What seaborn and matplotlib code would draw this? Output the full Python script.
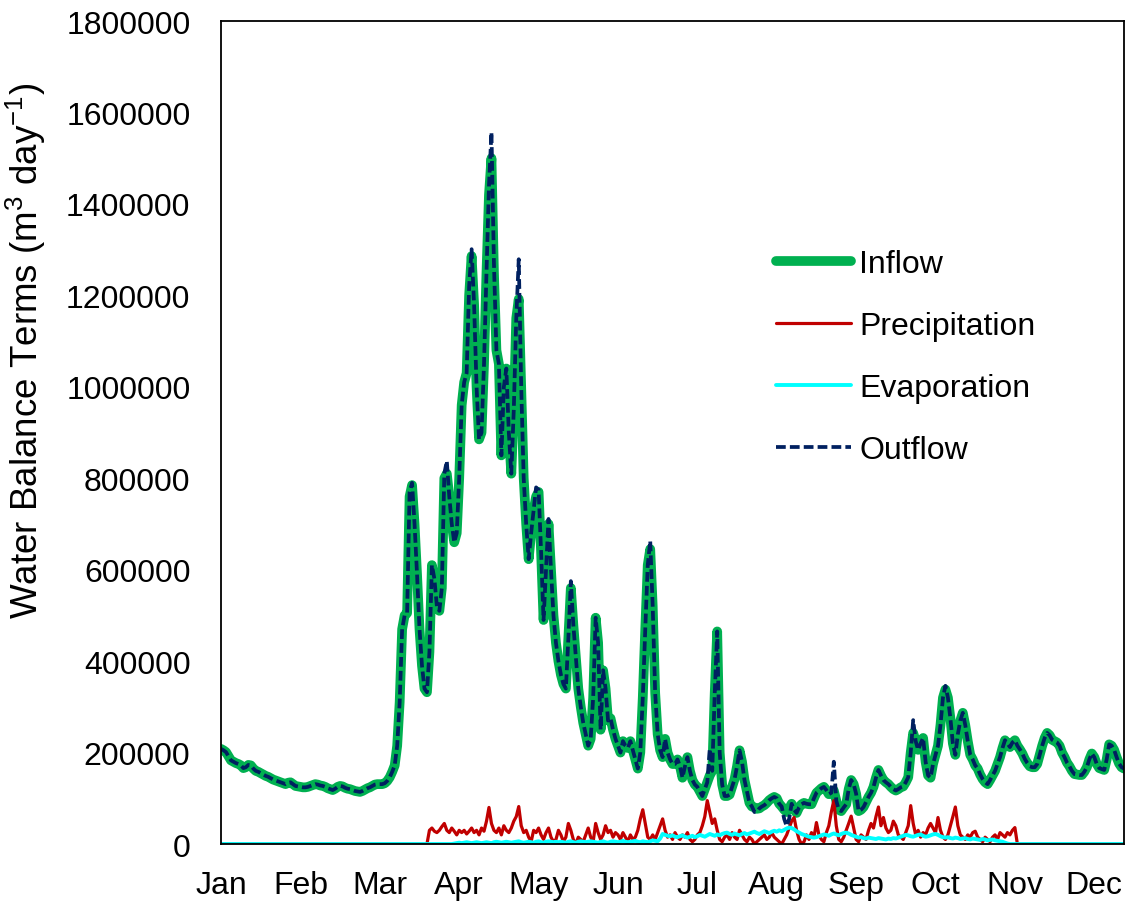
import numpy as np
import pandas as pd
import matplotlib
matplotlib.use("Agg")
import matplotlib.pyplot as plt
import seaborn as sns
from matplotlib.ticker import FixedLocator, StrMethodFormatter

# Daily water balance terms for one year, in thousand m3/day
inflow_k = [
    208, 205, 201, 192, 183, 180, 177, 175, 172, 166,
    168, 173, 172, 165, 160, 158, 155, 152, 149, 147,
    144, 141, 139, 137, 135, 133, 131, 134, 135, 131,
    127, 126, 125, 124, 124, 125, 127, 129, 131, 130,
    128, 127, 125, 122, 120, 118, 121, 125, 127, 126,
    123, 121, 120, 118, 116, 115, 114, 116, 119, 122,
    124, 127, 130, 131, 131, 131, 133, 138, 146, 158,
    172, 215, 310, 470, 500, 505, 760, 785, 700, 590,
    470, 390, 340, 332, 420, 610, 580, 520, 510, 560,
    800, 810, 760, 700, 660, 680, 800, 960, 1010, 1030,
    1200, 1286, 1180, 1000, 885, 900, 1050, 1250, 1420, 1500,
    1250, 1080, 1050, 850, 1000, 1040, 900, 810, 950, 1150,
    1192, 1000, 800, 700, 623, 680, 730, 760, 770, 640,
    490, 600, 700, 600, 500, 440, 400, 370, 350, 340,
    450, 560, 480, 410, 340, 300, 265, 240, 215, 230,
    320, 495, 440, 250, 380, 340, 270, 275, 250, 230,
    215, 200, 225, 215, 210, 225, 205, 185, 165, 200,
    320, 470, 610, 645, 520, 330, 240, 205, 190, 230,
    200, 185, 175, 175, 185, 170, 145, 170, 190, 160,
    140, 130, 125, 115, 105, 120, 135, 150, 160, 330,
    465, 200, 130, 105, 105, 108, 125, 142, 170, 205,
    180, 140, 115, 90, 82, 80, 77, 78, 82, 85,
    90, 96, 100, 103, 100, 88, 82, 75, 70, 78,
    88, 75, 68, 80, 87, 90, 88, 87, 87, 100,
    112, 117, 122, 125, 118, 109, 112, 117, 95, 75,
    72, 80, 87, 120, 140, 131, 110, 72, 75, 81,
    92, 103, 112, 125, 145, 162, 150, 140, 135, 131,
    125, 120, 117, 120, 124, 126, 135, 146, 200, 243,
    225, 206, 220, 232, 180, 150, 145, 175, 195, 215,
    260, 320, 338, 320, 275, 220, 195, 240, 270, 287,
    260, 225, 195, 185, 172, 165, 152, 142, 135, 131,
    140, 150, 160, 175, 190, 210, 227, 220, 212, 222,
    227, 215, 207, 198, 186, 177, 170, 168, 168, 175,
    195, 215, 232, 243, 238, 228, 225, 222, 215, 200,
    190, 178, 170, 160, 153, 152, 151, 151, 158, 168,
    185, 198, 190, 175, 166, 164, 162, 185, 218, 215,
    206, 190, 176, 168, 165,
]

outflow_k = [
    208, 205, 201, 192, 183, 180, 177, 175, 172, 166,
    168, 173, 172, 165, 160, 158, 155, 152, 149, 147,
    144, 141, 139, 137, 135, 133, 131, 134, 135, 131,
    127, 126, 125, 124, 124, 125, 127, 129, 131, 130,
    128, 127, 125, 122, 120, 118, 121, 125, 127, 126,
    123, 121, 120, 118, 116, 115, 114, 116, 119, 122,
    124, 127, 130, 131, 131, 131, 133, 138, 146, 158,
    172, 215, 310, 470, 500, 505, 770, 790, 700, 590,
    470, 390, 340, 332, 420, 610, 580, 520, 510, 560,
    810, 838, 760, 700, 660, 680, 800, 960, 1010, 1030,
    1220, 1301, 1180, 1000, 885, 900, 1050, 1250, 1440, 1557,
    1270, 1080, 1050, 850, 1000, 1040, 900, 810, 950, 1150,
    1279, 1000, 800, 700, 623, 680, 730, 780, 775, 640,
    490, 600, 711, 600, 500, 440, 400, 370, 350, 340,
    450, 575, 480, 410, 340, 300, 265, 240, 215, 230,
    320, 495, 440, 250, 380, 340, 270, 275, 250, 230,
    215, 200, 225, 215, 210, 225, 205, 185, 165, 200,
    320, 470, 610, 663, 520, 330, 240, 205, 190, 230,
    200, 185, 175, 175, 185, 170, 145, 170, 190, 160,
    140, 130, 125, 115, 105, 120, 135, 208, 160, 330,
    465, 200, 130, 105, 105, 108, 125, 142, 170, 205,
    180, 140, 115, 90, 82, 70, 70, 78, 82, 85,
    90, 96, 100, 103, 100, 88, 82, 55, 39, 55,
    88, 75, 68, 80, 87, 90, 88, 87, 87, 100,
    112, 117, 122, 125, 118, 109, 112, 180, 95, 75,
    72, 80, 87, 120, 140, 131, 110, 72, 75, 81,
    92, 103, 112, 125, 145, 162, 150, 140, 135, 131,
    125, 120, 117, 120, 124, 126, 135, 146, 200, 271,
    225, 206, 220, 232, 180, 150, 145, 175, 195, 215,
    260, 320, 346, 320, 275, 220, 195, 240, 270, 287,
    260, 225, 195, 185, 172, 165, 152, 142, 135, 131,
    140, 150, 160, 175, 190, 210, 227, 220, 212, 222,
    227, 215, 207, 198, 186, 177, 170, 168, 168, 175,
    195, 215, 232, 243, 238, 228, 225, 222, 215, 200,
    190, 178, 170, 160, 153, 152, 151, 151, 158, 168,
    185, 198, 190, 175, 166, 164, 162, 185, 218, 215,
    206, 190, 176, 168, 165,
]

# Precipitation: no rain input before day 84 or after day 320
precip_k = [0] * 84 + [
    30, 35, 28, 25, 30, 38, 45, 30, 25, 35,
    28, 20, 30, 25, 30, 22, 28, 35, 25, 30,
    20, 35, 28, 50, 80, 45, 30, 25, 35, 20,
    40, 30, 25, 35, 50, 60, 82, 40, 25, 30,
    15, 5, 30, 25, 35, 20, 10, 25, 35, 15,
    5, 10, 30, 20, 5, 15, 45, 30, 10, 0,
    15, 10, 5, 20, 35, 15, 5, 45, 25, 10,
    20, 40, 25, 30, 15, 25, 20, 10, 25, 15,
    5, 20, 10, 15, 30, 55, 75, 45, 15, 10,
    20, 10, 25, 40, 55, 30, 15, 20, 10, 25,
    15, 10, 20, 15, 25, 10, 5, 10, 20, 25,
    40, 60, 95, 70, 45, 55, 30, 10, 5, 15,
    20, 10, 25, 15, 10, 30, 20, 10, 5, 15,
    10, 0, 5, 10, 15, 20, 10, 15, 25, 15,
    10, 5, 0, 10, 20, 35, 50, 58, 30, 10,
    0, 5, 20, 10, 25, 15, 47, 20, 10, 5,
    25, 40, 70, 95, 40, 10, 5, 15, 30, 45,
    61, 35, 10, 5, 20, 15, 10, 30, 45, 35,
    60, 81, 40, 58, 35, 25, 30, 50, 40, 20,
    15, 10, 25, 40, 84, 45, 20, 30, 15, 25,
    20, 35, 45, 35, 25, 58, 30, 15, 10, 20,
    40, 60, 81, 40, 20, 15, 10, 20, 15, 25,
    28, 15, 10, 5, 15, 10, 5, 15, 20, 10,
    25, 20, 15, 25, 20, 30, 36,
] + [0] * 44

# Evaporation: open water season only (days 94-317)
evap_k = [0] * 94 + [
    1, 2, 3, 2, 3, 4, 3, 2, 3, 4,
    3, 2, 3, 4, 3, 2, 4, 5, 4, 3,
    4, 5, 4, 3, 4, 5, 6, 4, 3, 4,
    5, 4, 3, 5, 6, 4, 3, 5, 6, 5,
    4, 5, 4, 5, 4, 3, 5, 6, 4, 3,
    5, 6, 5, 4, 5, 6, 5, 4, 3, 5,
    6, 4, 3, 5, 6, 5, 4, 5, 7, 5,
    4, 5, 6, 7, 5, 4, 6, 5, 4, 6,
    8, 7, 6, 12, 22, 20, 18, 17, 19, 16,
    15, 17, 19, 16, 14, 16, 18, 15, 17, 20,
    18, 16, 19, 22, 20, 18, 21, 19, 22, 24,
    25, 22, 20, 23, 21, 19, 22, 24, 21, 23,
    25, 27, 24, 22, 25, 28, 26, 24, 27, 29,
    27, 30, 28, 31, 34, 36, 35, 32, 28, 25,
    22, 20, 18, 16, 15, 14, 15, 17, 19, 21,
    20, 18, 21, 23, 21, 19, 22, 24, 25, 23,
    20, 18, 16, 14, 15, 13, 12, 14, 13, 12,
    11, 13, 12, 11, 10, 12, 11, 13, 12, 14,
    16, 18, 20, 19, 17, 16, 18, 20, 21, 18,
    16, 17, 19, 21, 22, 20, 17, 15, 14, 15,
    13, 12, 14, 13, 11, 12, 13, 11, 10, 12,
    11, 10, 9, 11, 10, 8, 9, 10, 8, 7,
    6, 5, 3, 1,
] + [0] * 47

months = ["Jan", "Feb", "Mar", "Apr", "May", "Jun",
          "Jul", "Aug", "Sep", "Oct", "Nov", "Dec"]
y_ticks = [0, 200000, 400000, 600000, 800000, 1000000,
           1200000, 1400000, 1600000, 1800000]

days = np.arange(len(inflow_k))
df = pd.DataFrame({
    "day": days,
    "Inflow": np.array(inflow_k) * 1000,
    "Precipitation": np.array(precip_k) * 1000,
    "Evaporation": np.array(evap_k) * 1000,
    "Outflow": np.array(outflow_k) * 1000,
})

sns.set_theme(style="white")
plt.rcParams["font.family"] = ["Liberation Sans", "DejaVu Sans"]
plt.rcParams["mathtext.fontset"] = "custom"
plt.rcParams["mathtext.rm"] = "Liberation Sans"
plt.rcParams["mathtext.it"] = "Liberation Sans"

fig = plt.figure(figsize=(11.33, 9.03), dpi=100)
ax = fig.add_axes([0.1951, 0.0642, 0.797, 0.9114])

styles = {
    "Inflow": dict(color="#00B050", linewidth=7.0),
    "Precipitation": dict(color="#C00000", linewidth=2.3),
    "Evaporation": dict(color="#00FFFF", linewidth=2.8),
    "Outflow": dict(color="#002060", linewidth=2.7, linestyle=(0, (2.6, 1.1))),
}
for name in ["Inflow", "Precipitation", "Evaporation", "Outflow"]:
    sns.lineplot(data=df, x="day", y=name, ax=ax, label=name,
                 estimator=None, **styles[name])

# month ticks every 32 days along the day axis
month_pos = np.arange(len(months)) * 32
ax.set_xlim(0, 364)
ax.set_ylim(0, 1800000)
ax.xaxis.set_major_locator(FixedLocator(month_pos))
ax.set_xticklabels(months)
ax.yaxis.set_major_locator(FixedLocator(y_ticks))
ax.yaxis.set_major_formatter(StrMethodFormatter("{x:.0f}"))

ax.tick_params(axis="x", direction="in", length=6, width=1.3,
               color="black", labelsize=23, pad=19, labelcolor="black")
ax.tick_params(axis="y", length=0, labelsize=23, pad=22, labelcolor="black")
for sp in ax.spines.values():
    sp.set_color("black")
    sp.set_linewidth(1.3)

ax.set_xlabel("")
ax.set_ylabel(r"Water Balance Terms (m$^{3}$ day$^{-1}$)", fontsize=26.5,
              color="black")
ax.yaxis.set_label_coords(-0.1915, 0.60)

leg = ax.legend(loc="upper left", bbox_to_anchor=(0.615, 0.723),
                frameon=False, fontsize=23, handlelength=2.35,
                handletextpad=0.25, labelspacing=1.0, borderaxespad=0,
                borderpad=0)
for txt in leg.get_texts():
    txt.set_color("black")

fig.savefig("out.png", dpi=100)
